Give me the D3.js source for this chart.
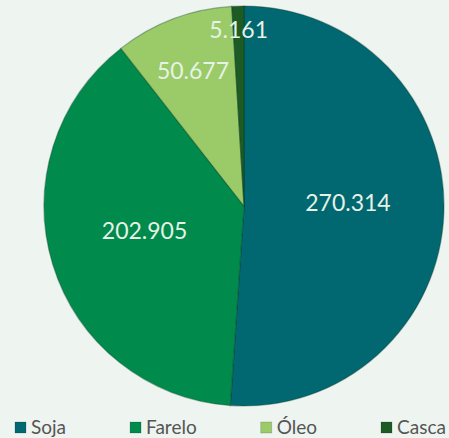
<!DOCTYPE html>
<html>
<head>
<meta charset="utf-8">
<script src="https://cdn.jsdelivr.net/npm/d3@7"></script>
<style>
  html, body { margin: 0; padding: 0; background: #eef4ef; }
  svg { display: block; }
</style>
</head>
<body>
<svg id="chart" width="449" height="438"></svg>
<script>
// Soybean complex breakdown
const categories = ["Soja", "Farelo", "Óleo", "Casca"];
const values = [270.314, 202.905, 50.677, 5.161];
const valueLabels = ["270.314", "202.905", "50.677", "5.161"];
const colors = ["#016770", "#008a4c", "#9acb68", "#1d5b25"];

const W = 449, H = 438;
const cx = 244, cy = 206, R = 200;

const svg = d3.select("#chart");
svg.append("rect").attr("width", W).attr("height", H).attr("fill", "#eef4ef");

const data = categories.map((c, i) => ({ name: c, value: values[i], label: valueLabels[i], color: colors[i] }));

const pie = d3.pie().sort(null).value(d => d.value);
const arcs = pie(data);
const arc = d3.arc().innerRadius(0).outerRadius(R);

const g = svg.append("g").attr("transform", `translate(${cx},${cy})`);

g.selectAll("path.slice")
  .data(arcs)
  .join("path")
  .attr("class", "slice")
  .attr("d", arc)
  .attr("fill", d => d.data.color)
  .attr("stroke", "rgba(0,50,30,0.35)")
  .attr("stroke-width", 1.2);

// value labels placed inside each slice
const labelPos = [
  { r: 0.52, dy: -7 },
  { r: 0.52, dy: -6 },
  { r: 0.72, dy: 0 },
  { r: 0.88, dy: 0 }
];
const labelArc = (d, i) => d3.arc().innerRadius(R * labelPos[i].r).outerRadius(R * labelPos[i].r).centroid(d);

g.selectAll("text.val")
  .data(arcs)
  .join("text")
  .attr("class", "val")
  .attr("transform", (d, i) => {
    const [x, y] = labelArc(d, i);
    return `translate(${x},${y + labelPos[i].dy})`;
  })
  .attr("text-anchor", "middle")
  .attr("dy", "0.35em")
  .attr("font-family", "Lato, 'Open Sans', sans-serif")
  .attr("font-size", 23)
  .attr("fill", "#e6f2e6")
  .text(d => d.data.label);

// legend along the bottom, items spaced by their text widths
const legend = svg.append("g").attr("transform", "translate(15,421)");
const item = legend.selectAll("g.item")
  .data(data)
  .join("g")
  .attr("class", "item");

item.append("rect")
  .attr("y", 1)
  .attr("width", 11).attr("height", 11)
  .attr("fill", d => d.color)
  .attr("stroke", "rgba(0,0,0,0.15)");

item.append("text")
  .attr("x", 16).attr("y", 13)
  .attr("font-family", "Lato, 'Open Sans', sans-serif")
  .attr("font-size", 19)
  .attr("fill", "#555")
  .text(d => d.name);

let xPos = 0;
item.each(function () {
  const node = d3.select(this);
  node.attr("transform", `translate(${xPos},0)`);
  xPos += 16 + node.select("text").node().getComputedTextLength() + 64;
});
</script>
</body>
</html>
